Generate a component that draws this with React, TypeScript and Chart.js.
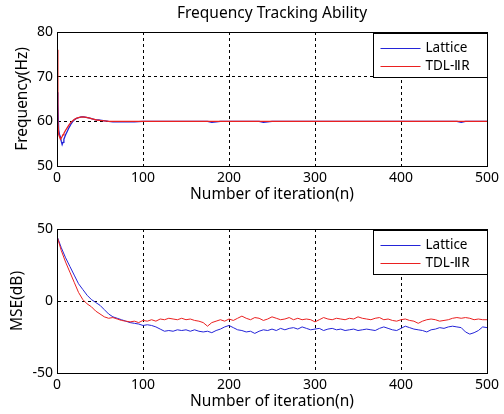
import React, { useEffect, useRef } from "react";
import { Chart, registerables } from "chart.js";
Chart.register(...registerables);

const FONT = "'Noto Sans', sans-serif";
const SERIES_NAMES = ["Lattice", "TDL-\u2161R"];
const COLORS = ["#2424d8", "#ea2020"];

const TITLE = "Frequency Tracking Ability";
const X_TITLE = "Number of iteration(n)";
const FREQ_Y_TITLE = "Frequency(Hz)";
const MSE_Y_TITLE = "MSE(dB)";

// Frequency tracking (iteration, Hz)
const latticeFreqN = [0, 1, 2, 3, 4, 5, 6, 7, 8, 9, 10, 12, 14, 16, 18, 20, 22, 25, 28, 31, 34, 37, 40, 44, 48, 52, 56, 60, 65, 70, 80, 90, 100, 150, 175, 180, 185, 190, 235, 240, 245, 250, 465, 470, 475, 500];
const latticeFreq = [66.5, 64, 58, 57, 56.5, 55.5, 54.8, 55.3, 56, 56.5, 57, 57.8, 58.6, 59.3, 59.9, 60.3, 60.6, 60.8, 61, 61, 60.9, 60.8, 60.6, 60.4, 60.3, 60.2, 60.1, 60, 59.9, 59.9, 59.9, 59.9, 60, 60, 60, 59.8, 59.9, 60, 60, 59.8, 59.9, 60, 60, 59.8, 60, 60];
const tdlFreqN = [0, 1, 2, 3, 4, 5, 6, 7, 8, 10, 12, 14, 16, 18, 20, 23, 26, 30, 34, 38, 42, 46, 50, 55, 60, 500];
const tdlFreq = [76, 60, 57, 56.5, 56, 56.3, 56.6, 57, 57.3, 58, 58.6, 59.2, 59.7, 60.1, 60.4, 60.7, 60.9, 61, 60.9, 60.7, 60.5, 60.3, 60.2, 60.1, 60, 60];

// MSE (iteration, dB)
const mseN = [0, 5, 10, 15, 20, 25, 30, 35, 40, 45, 50, 55, 60, 65, 70, 75, 80, 85, 90, 95, 100, 105, 110, 115, 120, 125, 130, 135, 140, 145, 150, 155, 160, 165, 170, 175, 180, 185, 190, 195, 200, 205, 210, 215, 220, 225, 230, 235, 240, 245, 250, 255, 260, 265, 270, 275, 280, 285, 290, 295, 300, 305, 310, 315, 320, 325, 330, 335, 340, 345, 350, 355, 360, 365, 370, 375, 380, 385, 390, 395, 400, 405, 410, 415, 420, 425, 430, 435, 440, 445, 450, 455, 460, 465, 470, 475, 480, 485, 490, 495, 500];
const latticeMse = [45, 37, 30, 24, 18, 12, 8, 4, 1, -1,
  -3, -6, -9, -11, -12, -13, -14, -15, -15.5, -16,
  -17, -16.5, -17, -18, -19.5, -21, -20.5, -21, -20, -20.5,
  -20, -21, -20, -21, -21.5, -21, -22, -20.5, -19.5, -18,
  -17, -18.5, -20, -20.5, -21.5, -21, -22.5, -21, -20, -20.5,
  -19.5, -20.5, -19, -20, -19, -18.5, -19.5, -18, -19, -20,
  -19.5, -19, -20.5, -19.5, -19, -20, -19.5, -20.5, -20, -19.5,
  -20.5, -20, -19.5, -20, -20.5, -19, -18, -19, -20, -20.5,
  -19, -17.5, -18.5, -19.5, -20, -20.5, -21.5, -20, -19.5, -18.5,
  -19, -18, -17.5, -18, -18.5, -21.5, -23, -22, -20.5, -18,
  -18.5];
const tdlMse = [45, 35, 27, 20, 13, 6, 1, -2, -4, -7,
  -9, -11, -12, -11.5, -12.5, -13.5, -14, -14.5, -14, -15,
  -13.5, -14, -13, -14, -12.5, -13, -12, -12.5, -13, -12,
  -13, -12.5, -13.5, -14, -15, -17.5, -15, -14, -13, -14,
  -12.5, -13.5, -12, -10.5, -12, -13, -11.5, -12, -13.5, -12.5,
  -11, -12, -13, -12.5, -11.5, -13, -12, -13, -12.5, -13,
  -14.5, -13, -11.5, -12.5, -13, -12, -12.5, -13, -12, -12.5,
  -11, -12, -12.5, -13, -12, -11.5, -13, -12.5, -13.5, -14,
  -13, -12.5, -13.5, -14, -15.5, -14, -13, -12.5, -13, -14,
  -13.5, -13, -12, -11.5, -12, -11.5, -12, -13, -12.5, -13,
  -13];

const X_MIN = 0, X_MAX = 500, X_STEP = 100;
const FREQ_MIN = 50, FREQ_MAX = 80, FREQ_STEP = 10;
const MSE_MIN = -50, MSE_MAX = 50, MSE_STEP = 50;

function pts(xs: number[], ys: number[]) {
  return xs.map((x, i) => ({ x, y: ys[i] }));
}

const framePlugin = {
  id: "frameLegend",
  afterDatasetsDraw(chart: any, _args: any, opts: any) {
    const { ctx, chartArea } = chart;
    const l = Math.round(chartArea.left) + 0.5;
    const t = Math.round(chartArea.top) + 0.5;
    const r = Math.round(chartArea.right) + 0.5;
    const b = Math.round(chartArea.bottom) + 0.5;
    ctx.save();
    ctx.strokeStyle = "#000";
    ctx.lineWidth = 1;
    ctx.setLineDash([]);
    ctx.strokeRect(l, t, r - l, b - t);
    // legend box
    const bw = 114, bh = 44;
    const bx = r - bw, by = t + 1;
    ctx.fillStyle = "#fff";
    ctx.fillRect(bx, by, bw, bh);
    ctx.strokeRect(bx, by, bw, bh);
    ctx.font = `13.5px ${FONT}`;
    ctx.textBaseline = "middle";
    ctx.textAlign = "left";
    SERIES_NAMES.forEach((name, i) => {
      const y = Math.round(by + 14 + i * 18) + 0.5;
      ctx.strokeStyle = COLORS[i];
      ctx.lineWidth = 1.2;
      ctx.beginPath();
      ctx.moveTo(bx + 7, y);
      ctx.lineTo(bx + 47, y);
      ctx.stroke();
      ctx.fillStyle = "#000";
      ctx.fillText(name, bx + 52, y);
    });
    if (opts && opts.title) {
      ctx.font = `15.5px ${FONT}`;
      ctx.textAlign = "center";
      ctx.fillStyle = "#000";
      ctx.fillText(opts.title, (chartArea.left + chartArea.right) / 2, 14);
    }
    ctx.restore();
  },
};

function makeOptions(yMin: number, yMax: number, yStep: number, yTitle: string, topPad: number, yTitleOffset: number, title?: string) {
  return {
    animation: false,
    responsive: false,
    maintainAspectRatio: false,
    layout: { padding: { top: topPad, right: 17, left: 0, bottom: 0 } },
    plugins: {
      legend: { display: false },
      tooltip: { enabled: false },
      frameLegend: { title },
    },
    elements: { point: { radius: 0 }, line: { tension: 0 } },
    scales: {
      x: {
        type: "linear",
        min: X_MIN,
        max: X_MAX,
        ticks: { stepSize: X_STEP, color: "#000", font: { family: FONT, size: 14 }, padding: 4, maxRotation: 0 },
        grid: { color: "#000", lineWidth: 1, drawTicks: false },
        border: { display: true, color: "#000", dash: [3, 3] },
        title: { display: true, text: X_TITLE, color: "#000", font: { family: FONT, size: 15.5 }, padding: { top: 0, bottom: 3 } },
        afterFit: (s: any) => { s.height = 41; },
      },
      y: {
        type: "linear",
        min: yMin,
        max: yMax,
        ticks: { stepSize: yStep, color: "#000", font: { family: FONT, size: 14 }, padding: 4 },
        grid: { color: "#000", lineWidth: 1, drawTicks: false },
        border: { display: true, color: "#000", dash: [3, 3] },
        title: { display: true, text: yTitle, color: "#000", font: { family: FONT, size: 15.5 }, padding: { top: yTitleOffset, bottom: 0 } },
        afterFit: (s: any) => { s.width = 57; },
      },
    },
  } as any;
}

function ChartBox({ build }: { build: (c: HTMLCanvasElement) => Chart }) {
  const ref = useRef<HTMLCanvasElement>(null);
  useEffect(() => {
    if (!ref.current) return;
    const ch = build(ref.current);
    return () => ch.destroy();
  }, []);
  return <canvas ref={ref} width={504} height={207} style={{ display: "block", width: 504, height: 207 }} />;
}

export default function App() {
  const buildFreq = (c: HTMLCanvasElement) =>
    new Chart(c, {
      type: "line",
      data: {
        datasets: [
          { label: SERIES_NAMES[0], data: pts(latticeFreqN, latticeFreq), borderColor: COLORS[0], borderWidth: 1.3, order: 1 },
          { label: SERIES_NAMES[1], data: pts(tdlFreqN, tdlFreq), borderColor: COLORS[1], borderWidth: 1.3, order: 0 },
        ],
      },
      options: makeOptions(FREQ_MIN, FREQ_MAX, FREQ_STEP, FREQ_Y_TITLE, 32, 13, TITLE),
      plugins: [framePlugin],
    } as any);
  const buildMse = (c: HTMLCanvasElement) =>
    new Chart(c, {
      type: "line",
      data: {
        datasets: [
          { label: SERIES_NAMES[0], data: pts(mseN, latticeMse), borderColor: COLORS[0], borderWidth: 1, order: 1 },
          { label: SERIES_NAMES[1], data: pts(mseN, tdlMse), borderColor: COLORS[1], borderWidth: 1, order: 0 },
        ],
      },
      options: makeOptions(MSE_MIN, MSE_MAX, MSE_STEP, MSE_Y_TITLE, 22, 8),
      plugins: [framePlugin],
    } as any);
  return (
    <div style={{ position: "fixed", left: 0, top: 0, width: 504, height: 414, background: "#fff" }}>
      <ChartBox build={buildFreq} />
      <ChartBox build={buildMse} />
    </div>
  );
}
